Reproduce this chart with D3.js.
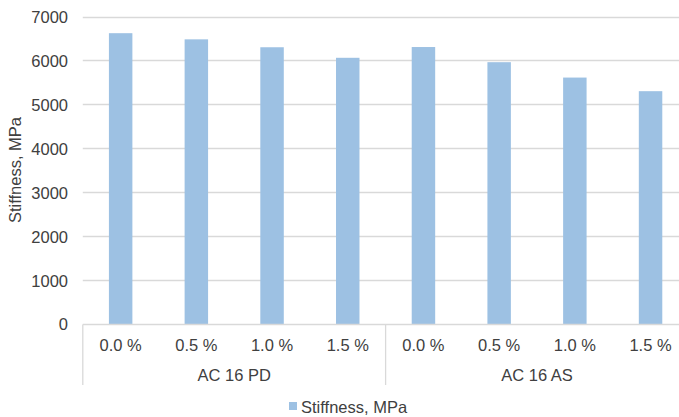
<!DOCTYPE html>
<html>
<head>
<meta charset="utf-8">
<script src="https://cdn.jsdelivr.net/npm/d3@7/dist/d3.min.js"></script>
<style>
  html, body { margin: 0; padding: 0; background: #fff; overflow: hidden; }
  svg { display: block; font-family: "Liberation Sans", Arial, sans-serif; }
</style>
</head>
<body>
<svg id="chart" width="679" height="417"></svg>
<script>
// Stiffness by additive content for two asphalt mixtures
const groups = ["AC 16 PD", "AC 16 AS"];
const contents = ["0.0 %", "0.5 %", "1.0 %", "1.5 %"];
const stiffnessPD = [6620, 6480, 6300, 6060];
const stiffnessAS = [6305, 5960, 5610, 5300];
const yTicks = [0, 1000, 2000, 3000, 4000, 5000, 6000, 7000];
const seriesName = "Stiffness, MPa";

const rows = [];
groups.forEach((g, gi) => {
  const vals = gi === 0 ? stiffnessPD : stiffnessAS;
  contents.forEach((c, ci) => rows.push({ key: g + "|" + c, group: g, content: c, value: vals[ci] }));
});

const svg = d3.select("#chart");
const textColor = "#404040";
const gridColor = "#d9d9d9";
const barColor = "#9dc1e3";

const x = d3.scaleBand().domain(rows.map(d => d.key)).range([82.8, 688.4]).paddingInner(0.69).paddingOuter(0.345);
const y = d3.scaleLinear().domain([0, 7000]).range([324, 16.5]);

// horizontal gridlines
svg.append("g").selectAll("line").data(yTicks.filter(t => t > 0)).join("line")
  .attr("x1", 82.8).attr("x2", 679)
  .attr("y1", d => Math.round(y(d)) + 0.5).attr("y2", d => Math.round(y(d)) + 0.5)
  .attr("stroke", gridColor).attr("stroke-width", 1.3);

// y-axis labels
const yAxis = d3.axisLeft(y).tickValues(yTicks).tickSize(0).tickPadding(0).tickFormat(d3.format("d"));
const ya = svg.append("g").attr("transform", "translate(68,0)").call(yAxis);
ya.select(".domain").remove();
ya.selectAll("text").attr("font-size", 16.5).attr("fill", textColor).attr("font-family", "Liberation Sans, Arial, sans-serif").attr("dy", "0.36em");

// bars
svg.append("g").selectAll("rect").data(rows).join("rect")
  .attr("x", d => x(d.key)).attr("width", x.bandwidth())
  .attr("y", d => y(d.value)).attr("height", d => y(0) - y(d.value))
  .attr("fill", barColor);

// category axis line and group separators
const baseY = Math.round(y(0)) + 0.5;
svg.append("line").attr("x1", 82.8).attr("x2", 679).attr("y1", baseY).attr("y2", baseY)
  .attr("stroke", gridColor).attr("stroke-width", 1.3);

const step = x.step();
const x0 = x.range()[0];
const sepX = [0, contents.length, rows.length].map(i => x0 + i * step);
svg.append("g").selectAll("line").data(sepX).join("line")
  .attr("x1", d => d).attr("x2", d => d).attr("y1", baseY).attr("y2", 385)
  .attr("stroke", gridColor).attr("stroke-width", 1.3);

// content labels
svg.append("g").selectAll("text").data(rows).join("text")
  .attr("x", d => x(d.key) + x.bandwidth() / 2).attr("y", 351)
  .attr("text-anchor", "middle").attr("font-size", 16.5).attr("fill", textColor)
  .text(d => d.content);

// group labels
svg.append("g").selectAll("text").data(groups).join("text")
  .attr("x", (d, i) => x0 + (i * contents.length + contents.length / 2) * step).attr("y", 381)
  .attr("text-anchor", "middle").attr("font-size", 16.5).attr("fill", textColor)
  .text(d => d);

// y-axis title
svg.append("text").attr("transform", "translate(21,170) rotate(-90)")
  .attr("text-anchor", "middle").attr("font-size", 16.5).attr("fill", textColor)
  .text(seriesName);

// legend
const lg = svg.append("g").attr("transform", "translate(289,402)");
lg.append("rect").attr("width", 8).attr("height", 8).attr("fill", barColor);
lg.append("text").attr("x", 12).attr("y", 10.5).attr("font-size", 16.5).attr("fill", textColor).text(seriesName);
</script>
</body>
</html>
